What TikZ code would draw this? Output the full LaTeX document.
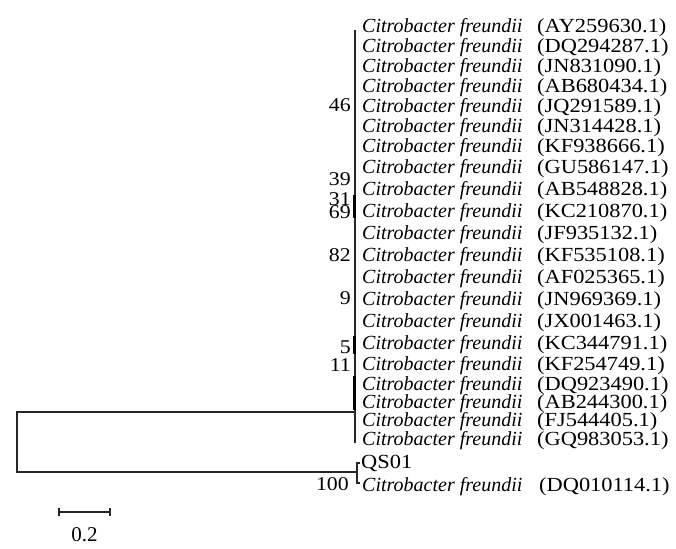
\documentclass[tikz,border=0pt]{standalone}
\usepackage{fontspec}
\setmainfont{Liberation Serif}
\usetikzlibrary{positioning}
\tikzset{
  taxon/.style={anchor=base west, inner sep=0pt, font=\fontsize{20}{20}\selectfont\itshape},
  acc/.style={anchor=base west, inner sep=0pt, font=\fontsize{20}{20}\selectfont},
  boot/.style={anchor=base east, inner sep=0pt, font=\fontsize{19.5}{20}\selectfont},
  branch/.style={line width=1.3pt, draw=black!85},
  stem/.style={line width=3pt, draw=black},
}
\newcommand{\wide}[1]{\scalebox{1.12}[1]{#1}}

\begin{document}
\begin{tikzpicture}[x=1pt, y=-1pt]
  \useasboundingbox (0,0) rectangle (676,548);
  % taxa of the big clade
  \foreach \n/\y/\a in {1/33/AY259630.1, 2/53/DQ294287.1, 3/73/JN831090.1,
      4/93/AB680434.1, 5/113/JQ291589.1, 6/133/JN314428.1, 7/153/KF938666.1,
      8/173/GU586147.1, 9/195/AB548828.1, 10/217/KC210870.1, 11/239/JF935132.1,
      12/261/KF535108.1, 13/283/AF025365.1, 14/305/JN969369.1, 15/327/JX001463.1,
      16/349/KC344791.1, 17/370/KF254749.1, 18/390/DQ923490.1, 19/408/AB244300.1,
      20/426/FJ544405.1, 21/445/GQ983053.1}{
    \node[taxon] (t\n) at (362,\y) {Citrobacter freundii};
    \node[acc] (a\n) at (537,\y) {\wide{(\a)}};
  }
  % outgroup pair
  \node[acc] (qs) at (361,468) {\wide{QS01}};
  \node[taxon] (t22) at (362,491) {Citrobacter freundii};
  \node[acc] (a22) at (539,491) {\wide{(DQ010114.1)}};
  % bootstrap values
  \foreach \b/\y in {46/112, 39/185, 31/205, 69/218, 82/261, 9/304, 5/353, 11/371}{
    \node[boot] (bs\b) at (351,\y) {\wide{\b}};
  }
  \node[boot] (bs100) at (349,490) {\wide{100}};
  % branches
  \coordinate (cladetop) at (355,30);
  \coordinate (cladebot) at (355,443);
  \coordinate (cladejoin) at (355,412);
  \coordinate (rootup) at (17,412);
  \coordinate (rootlow) at (17,472);
  \coordinate (pairjoin) at (357,472);
  \draw[branch] (cladetop) -- (cladebot);
  \draw[stem] (354,195) -- (354,218);
  \draw[stem] (354,336) -- (354,354);
  \draw[stem] (354,376) -- (354,410);
  \draw[branch] (cladejoin) -- (rootup) -- (rootlow) -- (pairjoin);
  \draw[branch] (360,463) -| (357,483) -- (360,483);
  % scale bar
  \coordinate (sbl) at (59,512);
  \coordinate (sbr) at (110,512);
  \draw[branch] (sbl) -- (sbr);
  \draw[branch] ([yshift=-4pt]sbl) -- ([yshift=4pt]sbl);
  \draw[branch] ([yshift=-4pt]sbr) -- ([yshift=4pt]sbr);
  \node[acc, anchor=base, font=\fontsize{21}{21}\selectfont] (sblabel) at (84.5,541) {0.2};
\end{tikzpicture}
\end{document}
